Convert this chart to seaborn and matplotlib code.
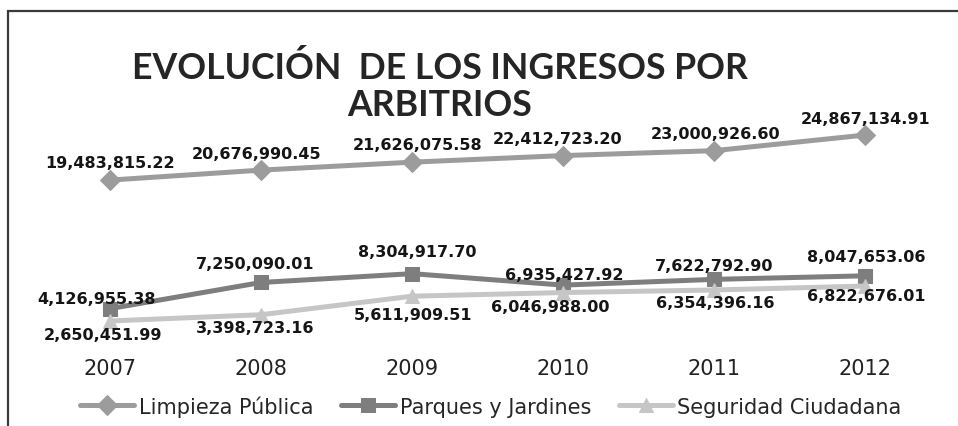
import matplotlib
matplotlib.use("Agg")
import matplotlib.pyplot as plt
import seaborn as sns
import pandas as pd
from matplotlib.patches import Rectangle

# Data
years = [2007, 2008, 2009, 2010, 2011, 2012]
limpieza = [19483815.22, 20676990.45, 21626075.58, 22412723.20, 23000926.60, 24867134.91]
parques = [4126955.38, 7250090.01, 8304917.70, 6935427.92, 7622792.90, 8047653.06]
seguridad = [2650451.99, 3398723.16, 5611909.51, 6046988.00, 6354396.16, 6822676.01]
series_names = ["Limpieza Pública", "Parques y Jardines", "Seguridad Ciudadana"]

# label offsets (points) for each data label
off_limpieza = [(0, 13), (-3, 12), (4, 13), (-4, 12), (1, 12), (0, 12)]
off_parques = [(-10, 7), (-4, 14), (4, 16), (1, 8), (0, 10), (1, 14)]
off_seguridad = [(-5, -10), (-4, -9), (1, -13), (-9, -10), (1, -9), (1, -7)]

sns.set_style("white")

fig = plt.figure(figsize=(9.58, 4.27), dpi=100)
ax = fig.add_axes([0.036, 0.194, 0.946, 0.588])

styles = [
    (limpieza, "#9c9c9c", "D", 10, off_limpieza),
    (parques, "#7e7e7e", "s", 10, off_parques),
    (seguridad, "#c6c6c6", "^", 10, off_seguridad),
]

for name, (vals, col, mk, ms, offs) in zip(series_names, styles):
    df = pd.DataFrame({"year": years, "value": vals})
    sns.lineplot(data=df, x="year", y="value", ax=ax, color=col, linewidth=3.6,
                 marker=mk, markersize=ms, markeredgecolor=col, label=name)
    for x, y, (dx, dy) in zip(years, vals, offs):
        ax.annotate(f"{y:,.2f}", (x, y), xytext=(dx, dy), textcoords="offset points",
                    ha="center", va="center", fontsize=11.5, fontweight="bold",
                    color="#151515", family="DejaVu Sans")

ax.set_xlim(2006.5, 2012.5)
ax.set_ylim(0, 30e6)
ax.set_xticks(years)
ax.set_xticklabels([str(y) for y in years], fontsize=15, color="#222222", family="DejaVu Sans")
ax.set_yticks([])
ax.set_xlabel("")
ax.set_ylabel("")
ax.tick_params(axis="x", length=0, pad=11)
for s in ax.spines.values():
    s.set_visible(False)

ax.get_legend().remove()
handles, labels = ax.get_legend_handles_labels()
fig.legend(handles, labels, loc="center", bbox_to_anchor=(491 / 958, 1 - 407 / 427),
           ncol=3, frameon=False, prop={"family": "DejaVu Sans", "size": 15},
           handlelength=2.6, handletextpad=0.2, columnspacing=1.35)

fig.text(440 / 958, 1 - 68 / 427, "EVOLUCIÓN  DE LOS INGRESOS POR", ha="center", va="center",
         fontsize=25.7, fontweight="bold", family="Lato", color="#252525")
fig.text(440 / 958, 1 - 106 / 427, "ARBITRIOS", ha="center", va="center",
         fontsize=25.7, fontweight="bold", family="Lato", color="#252525")

# scanned frame around the chart
fig.patches.append(Rectangle((8 / 958, -0.1), 1.2, 1.1 - 12 / 427, transform=fig.transFigure,
                             fill=False, edgecolor="#3a3a3a", linewidth=1.6))

fig.savefig("out.png", dpi=100)
